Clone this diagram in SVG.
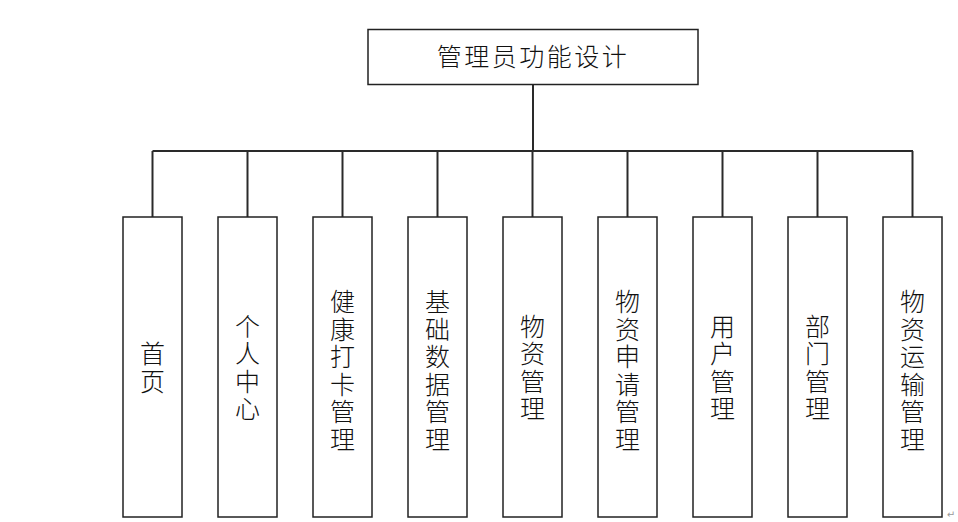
<svg xmlns="http://www.w3.org/2000/svg" width="958" height="522" viewBox="0 0 958 522">
<style>
.box{fill:#fff;stroke:#222;stroke-width:1.5}
.t{font-family:"Noto Sans CJK SC","Noto Sans",sans-serif;font-size:25px;fill:#111;text-anchor:middle;font-weight:300}
.c{fill:none;stroke:#2a2a2a;stroke-width:2}
</style>
<rect width="958" height="522" fill="#fff"/>
<g id="connectors">
<line class="c" x1="533" y1="84" x2="533" y2="151"/>
<line class="c" x1="152.5" y1="151" x2="913" y2="151"/>
<line class="c" x1="152.5" y1="151" x2="152.5" y2="217"/>
<line class="c" x1="247.5" y1="151" x2="247.5" y2="217"/>
<line class="c" x1="342.5" y1="151" x2="342.5" y2="217"/>
<line class="c" x1="437.5" y1="151" x2="437.5" y2="217"/>
<line class="c" x1="532.5" y1="151" x2="532.5" y2="217"/>
<line class="c" x1="627.5" y1="151" x2="627.5" y2="217"/>
<line class="c" x1="722.5" y1="151" x2="722.5" y2="217"/>
<line class="c" x1="817.5" y1="151" x2="817.5" y2="217"/>
<line class="c" x1="912.5" y1="151" x2="912.5" y2="217"/>
</g>
<g id="root">
<rect class="box" x="368" y="29.5" width="330" height="55"/>
<text class="t" x="533" y="66" style="letter-spacing:2.5px">管理员功能设计</text>
</g>
<g id="n1"><rect class="box" x="123" y="217" width="59" height="300"/>
<text class="t" x="152.5"><tspan x="152.5" y="363">首</tspan><tspan x="152.5" dy="27.5">页</tspan></text></g>
<g id="n2"><rect class="box" x="218" y="217" width="59" height="300"/>
<text class="t" x="247.5"><tspan x="247.5" y="335.5">个</tspan><tspan x="247.5" dy="27.5">人</tspan><tspan x="247.5" dy="27.5">中</tspan><tspan x="247.5" dy="27.5">心</tspan></text></g>
<g id="n3"><rect class="box" x="313" y="217" width="59" height="300"/>
<text class="t" x="342.5"><tspan x="342.5" y="311">健</tspan><tspan x="342.5" dy="27.5">康</tspan><tspan x="342.5" dy="27.5">打</tspan><tspan x="342.5" dy="27.5">卡</tspan><tspan x="342.5" dy="27.5">管</tspan><tspan x="342.5" dy="27.5">理</tspan></text></g>
<g id="n4"><rect class="box" x="408" y="217" width="59" height="300"/>
<text class="t" x="437.5"><tspan x="437.5" y="311">基</tspan><tspan x="437.5" dy="27.5">础</tspan><tspan x="437.5" dy="27.5">数</tspan><tspan x="437.5" dy="27.5">据</tspan><tspan x="437.5" dy="27.5">管</tspan><tspan x="437.5" dy="27.5">理</tspan></text></g>
<g id="n5"><rect class="box" x="503" y="217" width="59" height="300"/>
<text class="t" x="532.5"><tspan x="532.5" y="335.5">物</tspan><tspan x="532.5" dy="27.5">资</tspan><tspan x="532.5" dy="27.5">管</tspan><tspan x="532.5" dy="27.5">理</tspan></text></g>
<g id="n6"><rect class="box" x="598" y="217" width="59" height="300"/>
<text class="t" x="627.5"><tspan x="627.5" y="311">物</tspan><tspan x="627.5" dy="27.5">资</tspan><tspan x="627.5" dy="27.5">申</tspan><tspan x="627.5" dy="27.5">请</tspan><tspan x="627.5" dy="27.5">管</tspan><tspan x="627.5" dy="27.5">理</tspan></text></g>
<g id="n7"><rect class="box" x="693" y="217" width="59" height="300"/>
<text class="t" x="722.5"><tspan x="722.5" y="335.5">用</tspan><tspan x="722.5" dy="27.5">户</tspan><tspan x="722.5" dy="27.5">管</tspan><tspan x="722.5" dy="27.5">理</tspan></text></g>
<g id="n8"><rect class="box" x="788" y="217" width="59" height="300"/>
<text class="t" x="817.5"><tspan x="817.5" y="335.5">部</tspan><tspan x="817.5" dy="27.5">门</tspan><tspan x="817.5" dy="27.5">管</tspan><tspan x="817.5" dy="27.5">理</tspan></text></g>
<g id="n9"><rect class="box" x="883" y="217" width="59" height="300"/>
<text class="t" x="912.5"><tspan x="912.5" y="311">物</tspan><tspan x="912.5" dy="27.5">资</tspan><tspan x="912.5" dy="27.5">运</tspan><tspan x="912.5" dy="27.5">输</tspan><tspan x="912.5" dy="27.5">管</tspan><tspan x="912.5" dy="27.5">理</tspan></text></g>
<text x="951" y="518" style="font-family:'DejaVu Sans',sans-serif;font-size:10px;fill:#999;text-anchor:middle">↵</text>
</svg>
